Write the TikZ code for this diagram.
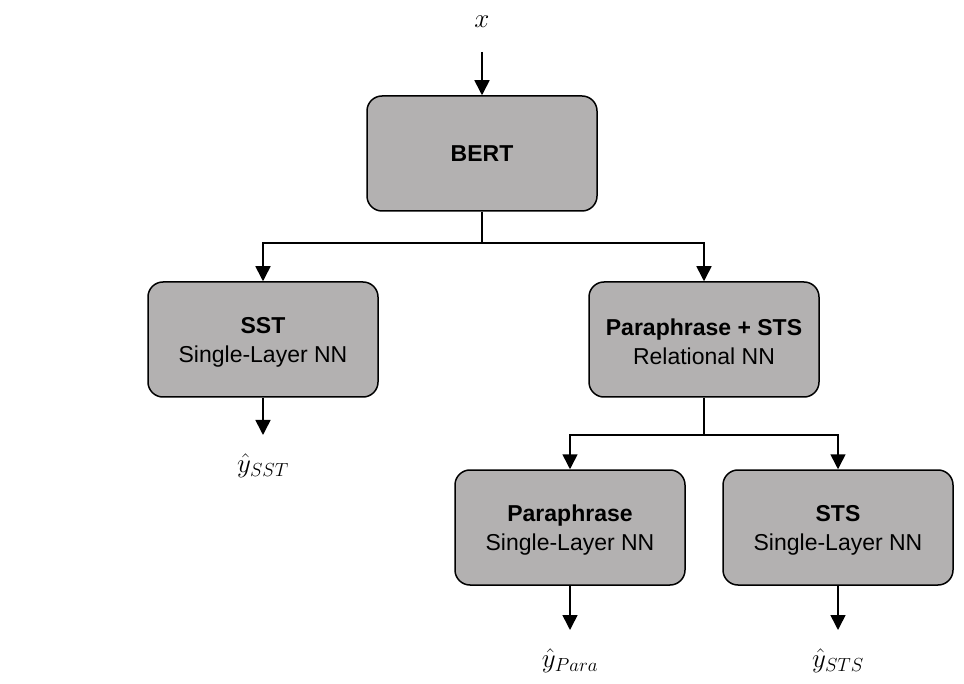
\RequirePackage{fix-cm}
\documentclass[tikz,border=0pt]{standalone}
\usepackage{fontspec}
\setsansfont{Liberation Sans}
\usetikzlibrary{arrows.meta}
\definecolor{boxgray}{HTML}{B3B1B1}
\newcommand{\tstrut}{\rule{0pt}{22pt}}
\tikzset{
  blk/.style={draw=black, fill=boxgray, rounded corners=15pt, line width=1.5pt,
    minimum width=230pt, minimum height=115pt, align=center, inner sep=0pt,
    font=\sffamily\fontsize{23}{29}\selectfont},
  lbl/.style={inner sep=0pt, font=\fontsize{27}{32}\selectfont},
  conn/.style={line width=1.6pt, -{Triangle[length=15pt,width=15pt]}},
  plain/.style={line width=1.6pt}
}
\begin{document}
\begin{tikzpicture}[x=1pt,y=-1pt]
\useasboundingbox (0,0) rectangle (964,684);
\node[lbl] (x) at (482,22) {$x$};
\node[blk] (bert) at (482,153.5) {\textbf{BERT}};
\node[blk] (sst) at (263,339.5) {\tstrut\textbf{SST}\\Single-Layer NN};
\node[blk] (pst) at (704,339.5) {\tstrut\textbf{Paraphrase + STS}\\Relational NN};
\node[blk] (para) at (570,527.5) {\tstrut\textbf{Paraphrase}\\Single-Layer NN};
\node[blk] (sts) at (838,527.5) {\tstrut\textbf{STS}\\Single-Layer NN};
\node[lbl] (ysst) at (263,466) {$\hat{y}_{SST}$};
\node[lbl] (ypara) at (570,661) {$\hat{y}_{Para}$};
\node[lbl] (ysts) at (838,661) {$\hat{y}_{STS}$};
\coordinate (xs) at (482,52);
\coordinate (b1) at (482,243);
\coordinate (p1) at (704,435);
\coordinate (sste) at (263,435);
\coordinate (parae) at (570,630);
\coordinate (stse) at (838,630);
\draw[conn] (xs) -- (bert.north);
\draw[plain] (bert.south) -- (b1);
\draw[conn] (b1) -| (sst.north);
\draw[conn] (b1) -| (pst.north);
\draw[conn] (sst.south) -- (sste);
\draw[plain] (pst.south) -- (p1);
\draw[conn] (p1) -| (para.north);
\draw[conn] (p1) -| (sts.north);
\draw[conn] (para.south) -- (parae);
\draw[conn] (sts.south) -- (stse);
\end{tikzpicture}
\end{document}
